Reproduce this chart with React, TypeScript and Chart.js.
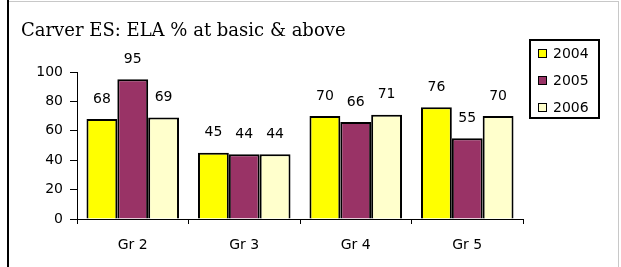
import React, { useEffect, useRef } from "react";
import { Chart, registerables } from "chart.js";
Chart.register(...registerables);

const chartTitle = "Carver ES: ELA % at basic & above";
const categories = ["Gr 2", "Gr 3", "Gr 4", "Gr 5"];
const seriesLabels = ["2004", "2005", "2006"];
const values2004 = [68, 45, 70, 76];
const values2005 = [95, 44, 66, 55];
const values2006 = [69, 44, 71, 70];
const yTicks = [0, 20, 40, 60, 80, 100];
const seriesColors = ["#FFFF00", "#993366", "#FFFFCC"];

const SANS = "'DejaVu Sans', Verdana, sans-serif";
const SERIF = "'DejaVu Serif', serif";

const framePlugin = {
  id: "frame",
  beforeDraw(chart: any) {
    const ctx = chart.ctx;
    ctx.save();
    ctx.fillStyle = "#ffffff";
    ctx.fillRect(0, 0, chart.width, chart.height);
    ctx.restore();
  },
  afterDraw(chart: any) {
    const ctx = chart.ctx;
    ctx.save();
    ctx.fillStyle = "#000000";
    ctx.fillRect(7, 0, 2, chart.height);
    ctx.fillStyle = "#c8c8c8";
    ctx.fillRect(9, 1, 610, 1);
    ctx.fillRect(618, 1, 1, chart.height);
    // title
    ctx.fillStyle = "#000";
    ctx.font = `18px ${SERIF}`;
    ctx.textBaseline = "alphabetic";
    ctx.textAlign = "left";
    ctx.fillText(chartTitle, 21, 36);
    // data labels
    ctx.font = `14px ${SANS}`;
    ctx.textAlign = "center";
    ctx.textBaseline = "middle";
    chart.data.datasets.forEach((ds: any, i: number) => {
      const meta = chart.getDatasetMeta(i);
      meta.data.forEach((el: any, j: number) => {
        ctx.fillText(String(ds.data[j]), el.x, el.y - 20);
      });
    });
    // legend
    const lx = 529, ly = 39, lw = 71, lh = 80;
    ctx.lineWidth = 2;
    ctx.strokeStyle = "#000";
    ctx.strokeRect(lx + 1, ly + 1, lw - 2, lh - 2);
    ctx.textAlign = "left";
    ctx.font = `14px ${SANS}`;
    chart.data.datasets.forEach((ds: any, i: number) => {
      const cy = 53 + i * 27;
      ctx.fillStyle = ds.backgroundColor;
      ctx.fillRect(538, cy - 4, 9, 9);
      ctx.lineWidth = 1;
      ctx.strokeStyle = "#000";
      ctx.strokeRect(538.5, cy - 3.5, 8, 8);
      ctx.fillStyle = "#000";
      ctx.fillText(ds.label, 553, cy + 1);
    });
    ctx.restore();
  },
};

export default function App() {
  const ref = useRef<HTMLCanvasElement | null>(null);
  useEffect(() => {
    if (!ref.current) return;
    const seriesValues = [values2004, values2005, values2006];
    const chart = new Chart(ref.current, {
      type: "bar",
      data: {
        labels: categories,
        datasets: seriesLabels.map((label, i) => ({
          label,
          data: seriesValues[i],
          backgroundColor: seriesColors[i],
          borderColor: "#000",
          borderWidth: 2,
          categoryPercentage: 0.83,
          barPercentage: 1.0,
        })),
      },
      options: {
        animation: false,
        responsive: false,
        maintainAspectRatio: false,
        devicePixelRatio: 1,
        layout: { padding: { top: 72, right: 98, left: 0, bottom: 0 } },
        plugins: {
          legend: { display: false },
          title: { display: false },
          tooltip: { enabled: false },
        },
        scales: {
          x: {
            ticks: { color: "#000", font: { family: SANS, size: 14 }, padding: 13 },
            grid: { drawOnChartArea: false, tickLength: 5, color: "#000", offset: true },
            border: { color: "#000", width: 1 },
            afterFit: (s: any) => { s.height = 48; },
          },
          y: {
            min: 0,
            max: 100,
            ticks: { color: "#000", font: { family: SANS, size: 14 }, padding: 7 },
            grid: { drawOnChartArea: false, tickLength: 7, color: "#000" },
            border: { color: "#000", width: 1 },
            afterBuildTicks: (s: any) => { s.ticks = yTicks.map((v) => ({ value: v })); },
            afterFit: (s: any) => { s.width = 77; },
          },
        },
      },
      plugins: [framePlugin],
    });
    return () => chart.destroy();
  }, []);
  return (
    <div style={{ position: "fixed", left: 0, top: 0, width: 621, height: 267 }}>
      <canvas ref={ref} width={621} height={267} style={{ display: "block" }} />
    </div>
  );
}
